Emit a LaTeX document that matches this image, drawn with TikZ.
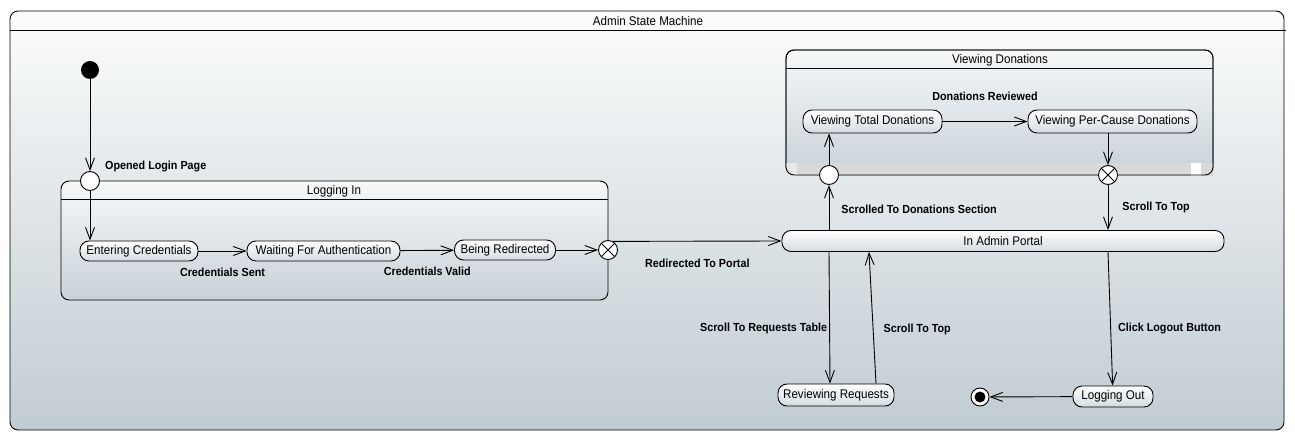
\documentclass[tikz,border=0pt]{standalone}
\usepackage{fontspec}
\setmainfont{Liberation Sans}[FakeStretch=0.92]
\usetikzlibrary{arrows.meta}
\definecolor{bgtop}{RGB}{251,252,252}
\definecolor{bgbot}{RGB}{193,204,210}
\definecolor{boxtop}{RGB}{246,248,249}
\definecolor{boxbot}{RGB}{200,210,216}
\definecolor{statebot}{RGB}{212,220,224}
\definecolor{stripgray}{RGB}{217,217,217}
\definecolor{striplight}{RGB}{232,232,232}
\tikzset{
  frame/.style={draw=black, rounded corners=8pt, line width=0.9pt},
  stbox/.style={draw=black, rounded corners=9pt, top color=white, bottom color=statebot,
    line width=0.9pt, minimum height=20pt, inner xsep=4pt, inner ysep=2pt,
    font=\fontsize{12.6pt}{14pt}\selectfont},
  entrypt/.style={circle, draw=black, fill=white, line width=0.9pt, minimum size=19pt, inner sep=0pt},
  exitpt/.style={entrypt, path picture={
    \draw [black, line width=0.9pt] (path picture bounding box.north west) -- (path picture bounding box.south east)
      (path picture bounding box.north east) -- (path picture bounding box.south west);}},
  initpt/.style={circle, fill=black, minimum size=18pt, inner sep=0pt},
  finalpt/.style={circle, draw=black, fill=white, line width=0.9pt, minimum size=18pt, inner sep=0pt,
    path picture={\fill [black] (path picture bounding box.center) circle (5.5pt);}},
  trans/.style={-{Straight Barb[length=12pt, width=9pt]}, line width=0.9pt},
  lbl/.style={font=\fontsize{11.7pt}{13pt}\selectfont\bfseries, inner sep=1pt},
  ttl/.style={font=\fontsize{12.6pt}{14pt}\selectfont, inner sep=1pt}
}
\begin{document}
\begin{tikzpicture}[x=1pt, y=-1pt]
\useasboundingbox (0, 0) rectangle (1295, 446);
% outer frame
\draw [frame, top color=bgtop, bottom color=bgbot] (10, 11) rectangle (1284, 430);
\draw [line width=0.9pt] (10, 30) -- (1286, 30);
\node [ttl] (tMain) at (648, 21) {Admin State Machine};

% Logging In
\draw [frame, top color=boxtop, bottom color=boxbot] (61, 181) rectangle (608, 300);
\draw [line width=0.9pt] (61, 199) -- (608, 199);
\node [ttl] (tLogin) at (334, 191) {Logging In};

% Viewing Donations
\draw [frame, top color=boxtop, bottom color=boxbot] (786, 50) rectangle (1213, 175);
\fill [stripgray] (797, 163) rectangle (1213, 176);
\fill [striplight] (786, 163) rectangle (797, 176);
\fill [white] (1191, 163) rectangle (1201, 176);
\draw [frame] (786, 50) rectangle (1213, 175);
\draw [line width=0.9pt] (786, 68) -- (1213, 68);
\node [ttl] (tDon) at (1000, 60) {Viewing Donations};

\node [initpt] (init) at (90, 70) {};
\node [entrypt] (eLogin) at (90, 181) {};
\node [lbl, anchor=west] (lOpen) at (104, 167) {Opened Login Page};
\node [stbox, minimum width=118pt] (entC) at (139, 251) {Entering Credentials};
\node [stbox, minimum width=153pt] (wait) at (323.5, 251) {Waiting For Authentication};
\node [stbox, minimum width=101pt] (redir) at (505, 250) {Being Redirected};
\node [exitpt] (xLogin) at (608, 250) {};

\node [stbox, minimum width=442pt, minimum height=21pt] (portal) at (1003, 241) {In Admin Portal};
\node [entrypt] (eDon) at (829, 175) {};
\node [exitpt] (xDon) at (1108, 175) {};
\node [stbox, minimum width=139pt, minimum height=23pt] (total) at (872.5, 121.5) {Viewing Total Donations};
\node [stbox, minimum width=169pt, minimum height=23pt] (percause) at (1112.5, 121.5) {Viewing Per-Cause Donations};

\node [stbox, minimum width=116pt, minimum height=22pt] (review) at (836, 395) {Reviewing Requests};
\node [stbox, minimum width=80pt, minimum height=21pt] (logout) at (1113, 396.5) {Logging Out};
\node [finalpt] (final) at (980, 397) {};

\draw [trans] (init) -- (eLogin);
\draw [trans] (eLogin) -- (eLogin |- entC.north);
\draw [trans] (entC) -- (wait) node [lbl, midway, yshift=-21pt] {Credentials Sent};
\draw [trans] (wait) -- (redir) node [lbl, midway, yshift=-21pt] {Credentials Valid};
\draw [trans] (redir) -- (xLogin);
\draw [trans] (xLogin.60) -- (portal.west) node [lbl, midway, yshift=-22pt] {Redirected To Portal};

\draw [trans] (portal.north -| eDon) -- (eDon) node [lbl, midway, anchor=west, xshift=11pt, yshift=-2pt] {Scrolled To Donations Section};
\draw [trans] (eDon) -- (eDon |- total.south);
\draw [trans] (total) -- (percause) node [lbl, midway, yshift=25pt] {Donations Reviewed};
\draw [trans] (percause.south -| xDon) -- (xDon);
\draw [trans] (xDon) -- (xDon |- portal.north) node [lbl, midway, anchor=west, xshift=13pt] {Scroll To Top};

\draw [trans] ([xshift=-174pt]portal.south) -- ([xshift=-6pt]review.north) node [lbl, pos=0.58, anchor=east, xshift=-1pt] {Scroll To Requests Table};
\draw [trans] ([xshift=40pt]review.north) -- ([xshift=-134pt]portal.south) node [lbl, pos=0.41, anchor=west, xshift=9pt] {Scroll To Top};
\draw [trans] ([xshift=105pt]portal.south) -- (logout) node [lbl, pos=0.57, anchor=west, xshift=6pt] {Click Logout Button};
\draw [trans] (logout) -- (final);
\end{tikzpicture}
\end{document}
